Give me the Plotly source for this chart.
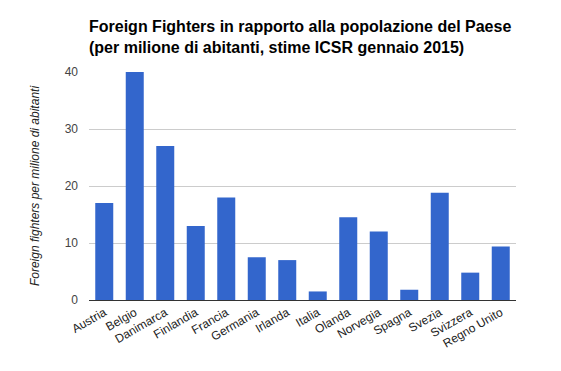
import plotly.graph_objects as go

countries = ["Austria", "Belgio", "Danimarca", "Finlandia", "Francia", "Germania", "Irlanda",
             "Italia", "Olanda", "Norvegia", "Spagna", "Svezia", "Svizzera", "Regno Unito"]
values = [17, 40, 27, 13, 18, 7.5, 7, 1.5, 14.5, 12, 1.8, 18.8, 4.8, 9.4]
y_ticks = [0, 10, 20, 30, 40]

FONT = "Arial, 'Liberation Sans', sans-serif"

# page body has an 8px margin: the figure is sized to fit inside the 561x371 window
W, H = 553, 363

fig = go.Figure(go.Bar(x=countries, y=values, marker_color="#3366CC", marker_line_width=0))

fig.update_layout(
    width=W, height=H,
    margin=dict(l=81, r=45, t=64, b=71),
    paper_bgcolor="white", plot_bgcolor="white",
    bargap=0.41,
    showlegend=False,
    title=dict(
        text="<b>Foreign Fighters in rapporto alla popolazione del Paese<br>(per milione di abitanti, stime ICSR gennaio 2015)</b>",
        x=81/W, xanchor="left", xref="container",
        y=1-24/H, yanchor="top", yref="container",
        font=dict(family=FONT, size=16, color="#000000"),
    ),
    font=dict(family=FONT, size=12, color="#444444"),
)
fig.update_xaxes(
    tickangle=-30, tickfont=dict(size=12, color="#222222"),
    showgrid=False, showline=True, linecolor="#333333", linewidth=1,
    ticks="", ticklen=0,
)
fig.update_yaxes(
    range=[0, 40], tickvals=y_ticks, showgrid=True, gridcolor="#CCCCCC", gridwidth=1,
    zeroline=False, showline=False, ticks="", ticklabelstandoff=10,
    tickfont=dict(size=12, color="#444444"),
    title=dict(text="<i>Foreign fighters per milione di abitanti</i>",
               font=dict(size=12, color="#222222"), standoff=22),
)
fig.write_html("out.html")
